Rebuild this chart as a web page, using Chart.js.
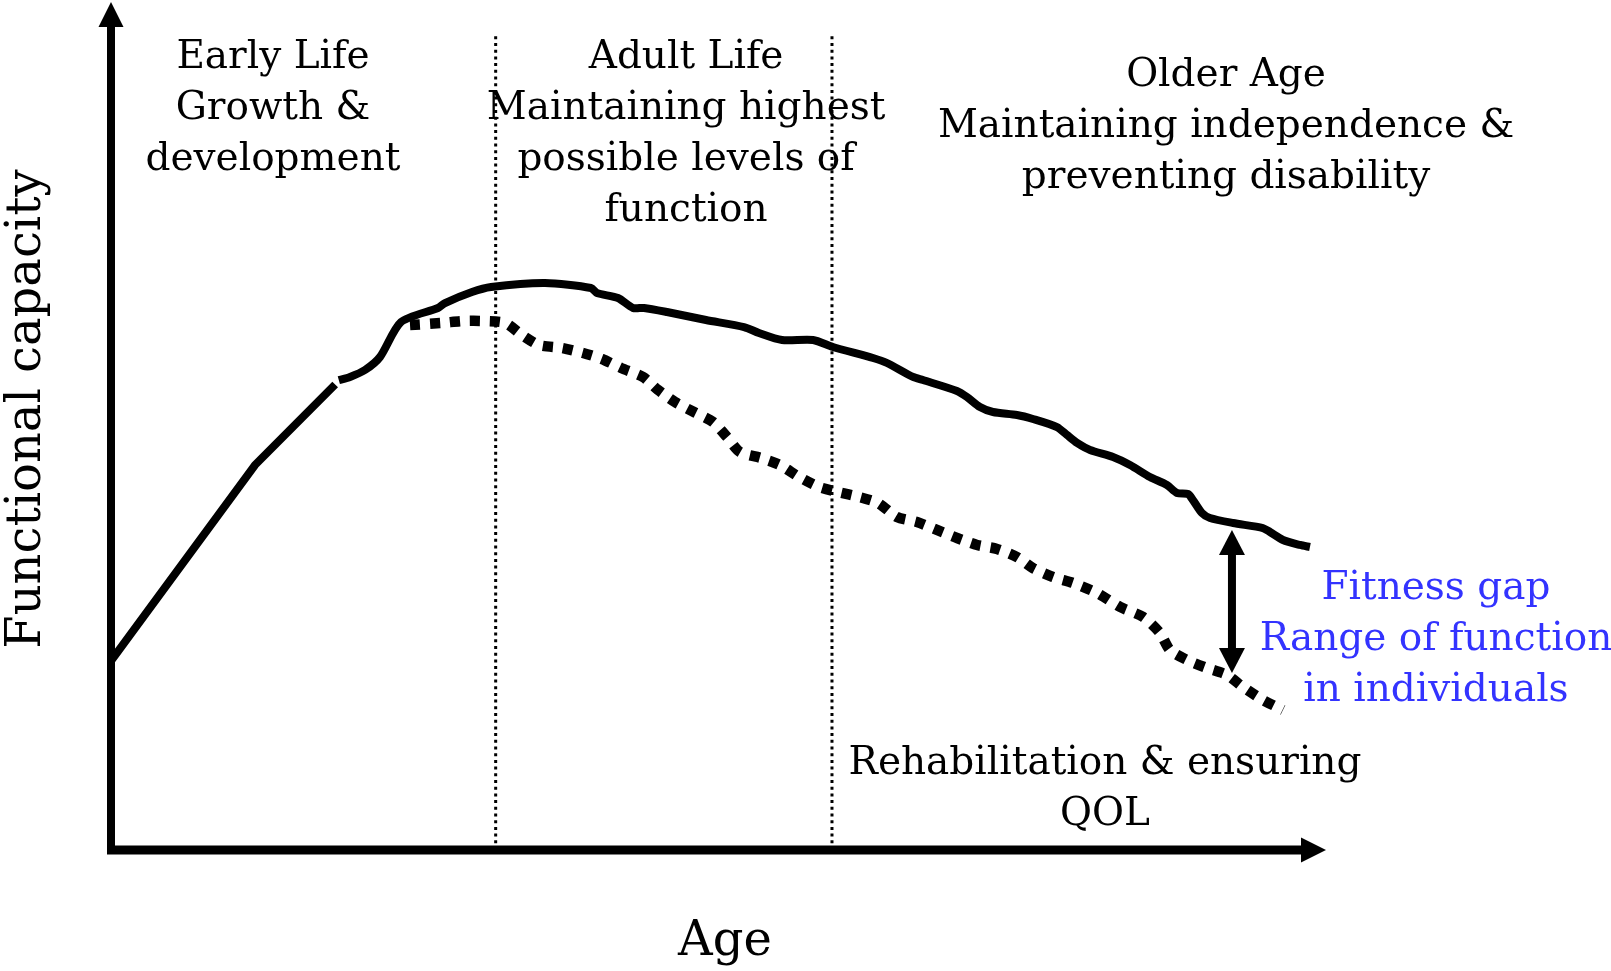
<!DOCTYPE html>
<html>
<head>
<meta charset="utf-8">
<script src="https://cdn.jsdelivr.net/npm/chart.js@4.4.1/dist/chart.umd.min.js"></script>
<style>
  body { margin: 0; background: #fff; }
  canvas { display: block; }
</style>
</head>
<body>
<canvas id="c" width="1611" height="971"></canvas>
<script>
// age on x (0..100), functional capacity on y (0..100), conceptual units
// early growth: straight segments
const growthAge = [0, 11.85, 18.45];
const growthCapacity = [22.3, 45.4, 54.9];

const solidAge = [18.75, 19.67, 20.9, 22.14, 23.87, 26.91, 27.49, 29.71, 31.28, 35.72, 39.51, 40.0,
  41.73, 42.96, 43.87, 45.76, 48.97, 52.1, 53.33, 55.23, 57.78, 59.42, 62.72, 63.87, 66.01, 66.83, 69.63,
  70.45, 71.52, 72.59, 74.57, 75.88, 77.86, 78.68, 79.51, 80.58, 82.47, 83.87, 85.51, 86.91, 87.74, 88.64,
  89.05, 89.79, 90.45, 92.35, 94.81, 95.39, 96.46, 97.86, 98.68];
const solidCapacity = [55.4, 55.78, 56.6, 58.14, 62.26, 63.92, 64.5, 65.8, 66.39, 66.86, 66.27, 65.68,
  65.09, 63.92, 63.92, 63.44, 62.5, 61.67, 60.97, 60.14, 60.14, 59.32, 58.02, 57.43, 55.78, 55.42, 54.13,
  53.42, 52.24, 51.65, 51.3, 50.83, 49.88, 48.94, 48.0, 47.17, 46.34, 45.4, 43.99, 43.04, 42.1, 41.98,
  41.27, 39.74, 39.15, 38.56, 37.97, 37.5, 36.56, 35.97, 35.73];

const dottedAge = [24.61, 27.24, 28.97, 30.7, 32.43, 33.83, 35.23, 37.12, 38.85, 40.41, 41.98, 43.79, 45.02,
  46.42, 47.98, 49.55, 50.7, 51.77, 53.5, 55.06, 56.63, 58.27, 59.84, 61.56, 63.13, 64.69, 66.34, 67.98,
  69.63, 71.28, 72.92, 74.57, 75.88, 77.53, 79.18, 81.15, 83.05, 84.94, 86.34, 87.16, 88.56, 90.21, 91.85,
  93.17, 94.81, 96.46];
const dottedCapacity = [61.91, 62.15, 62.38, 62.38, 62.15, 60.73, 59.55, 59.2, 58.61, 57.9, 56.84, 55.78, 54.25,
  52.83, 51.65, 50.47, 48.7, 46.93, 46.23, 45.4, 43.99, 42.81, 42.22, 41.63, 40.92, 39.27, 38.68, 37.74,
  36.79, 35.97, 35.5, 34.55, 33.25, 32.19, 31.49, 30.31, 28.66, 27.48, 25.59, 23.58, 22.41, 21.46, 20.64,
  19.22, 17.69, 16.51];

// life stage boundaries on the age axis
const stageBounds = [31.66, 59.34];
const stageTop = 96.2;

// fitness gap arrow (age, upper, lower)
const gapAge = 92.26;
const gapRange = [37.74, 20.87];

const blocks = [
  { lines: ['Early Life', 'Growth &', 'development'], x: 13.33, y: 93.4 },
  { lines: ['Adult Life', 'Maintaining highest', 'possible levels of', 'function'], x: 47.33, y: 93.4 },
  { lines: ['Older Age', 'Maintaining independence &', 'preventing disability'], x: 91.77, y: 91.3 },
  { lines: ['Fitness gap', 'Range of function', 'in individuals'], x: 109.05, y: 30.85, color: '#3333ff' },
  { lines: ['Rehabilitation & ensuring', 'QOL'], x: 81.81, y: 10.15 }
];

const toPoints = (xs, ys) => xs.map((v, i) => ({ x: v, y: ys[i] }));

function arrowHead(ctx, tx, ty, dx, dy, len, half) {
  const px = -dy, py = dx;
  ctx.beginPath();
  ctx.moveTo(tx, ty);
  ctx.lineTo(tx - dx * len + px * half, ty - dy * len + py * half);
  ctx.lineTo(tx - dx * len - px * half, ty - dy * len - py * half);
  ctx.closePath();
  ctx.fill();
}

const diagramPlugin = {
  id: 'diagram',
  afterDatasetsDraw(chart) {
    const { ctx, scales: { x, y } } = chart;
    ctx.save();
    ctx.fillStyle = '#000';
    ctx.strokeStyle = '#000';

    // axes with arrows
    const ox = x.getPixelForValue(0), oy = y.getPixelForValue(0);
    const topY = y.getPixelForValue(100), rightX = x.getPixelForValue(100);
    ctx.lineWidth = 8;
    ctx.beginPath();
    ctx.moveTo(ox, oy + 4);
    ctx.lineTo(ox, topY + 20);
    ctx.stroke();
    ctx.lineWidth = 9;
    ctx.beginPath();
    ctx.moveTo(ox - 4, oy);
    ctx.lineTo(rightX - 20, oy);
    ctx.stroke();
    arrowHead(ctx, ox, topY, 0, -1, 25, 12.5);
    arrowHead(ctx, rightX, oy, 1, 0, 25, 12.5);

    // fitness gap double arrow
    const gx = x.getPixelForValue(gapAge);
    const g1 = y.getPixelForValue(gapRange[0]), g2 = y.getPixelForValue(gapRange[1]);
    ctx.lineWidth = 8;
    ctx.beginPath();
    ctx.moveTo(gx, g1 + 20);
    ctx.lineTo(gx, g2 - 20);
    ctx.stroke();
    arrowHead(ctx, gx, g1, 0, -1, 25, 13);
    arrowHead(ctx, gx, g2, 0, 1, 25, 13);

    // text blocks
    ctx.textAlign = 'center';
    ctx.textBaseline = 'middle';
    ctx.font = '39px "DejaVu Serif"';
    blocks.forEach(b => {
      ctx.fillStyle = b.color || '#000';
      const bx = x.getPixelForValue(b.x), by = y.getPixelForValue(b.y);
      b.lines.forEach((t, i) => ctx.fillText(t, bx, by + i * 51));
    });

    // axis titles
    ctx.fillStyle = '#000';
    ctx.font = '48px "DejaVu Serif"';
    ctx.fillText('Age', x.getPixelForValue(50.53), y.getPixelForValue(-10.95));
    ctx.translate(x.getPixelForValue(-6.83), y.getPixelForValue(52.0));
    ctx.rotate(-Math.PI / 2);
    ctx.fillText('Functional capacity', 0, 0);
    ctx.restore();
  }
};

const lineStyle = { showLine: true, pointRadius: 0, fill: false, borderColor: '#000', clip: false };

new Chart(document.getElementById('c'), {
  type: 'scatter',
  data: {
    datasets: [
      ...stageBounds.map(a => ({
        ...lineStyle,
        data: [{ x: a, y: 0 }, { x: a, y: stageTop }],
        borderWidth: 3,
        borderDash: [3, 3.7]
      })),
      {
        ...lineStyle,
        data: toPoints(growthAge, growthCapacity),
        borderWidth: 8,
        tension: 0
      },
      {
        ...lineStyle,
        data: toPoints(solidAge, solidCapacity),
        borderWidth: 8,
        tension: 0.25,
        borderJoinStyle: 'round'
      },
      {
        ...lineStyle,
        data: toPoints(dottedAge, dottedCapacity),
        borderWidth: 10.5,
        tension: 0.25,
        borderDash: [10, 10]
      }
    ]
  },
  options: {
    responsive: false,
    animation: false,
    layout: { padding: { left: 111, right: 285, top: 2, bottom: 121 } },
    scales: {
      x: { type: 'linear', min: 0, max: 100, display: false },
      y: { min: 0, max: 100, display: false }
    },
    plugins: { legend: { display: false }, tooltip: { enabled: false } }
  },
  plugins: [diagramPlugin]
});
</script>
</body>
</html>
